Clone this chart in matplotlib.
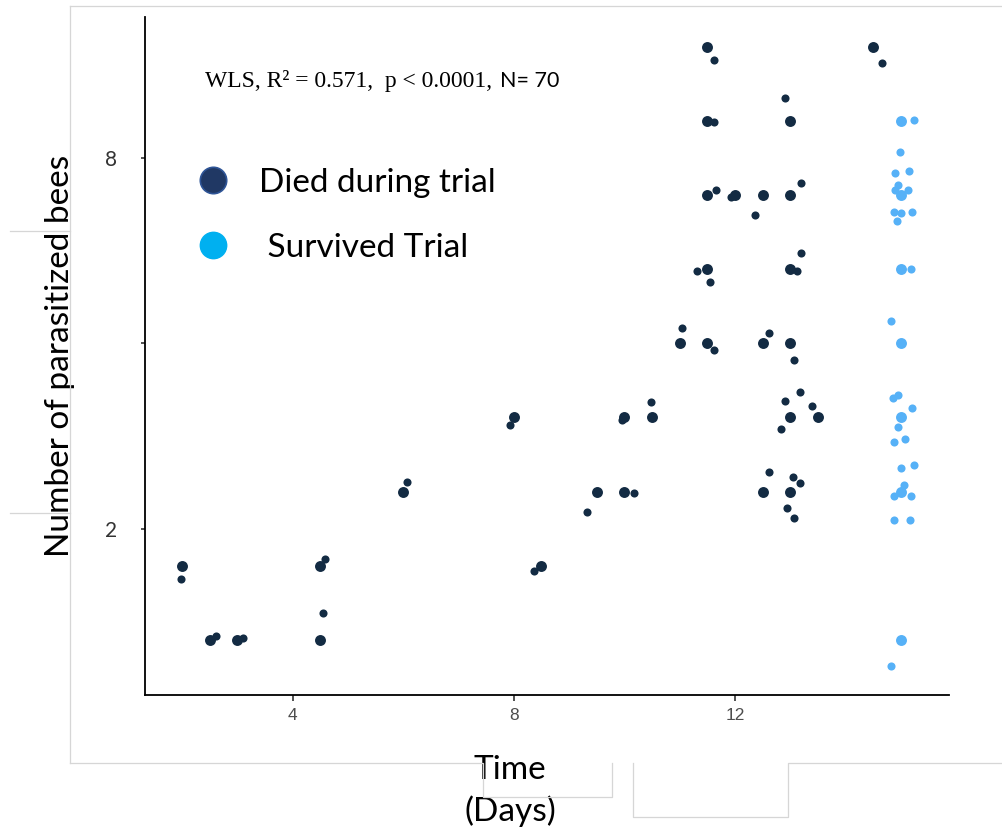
import matplotlib
matplotlib.use('Agg')
import matplotlib.pyplot as plt
from matplotlib.lines import Line2D

# colours
DIED = '#132B43'
SURV = '#56B1F7'

# died during trial: points on the exact day / count
died_x = [2, 2.5, 3, 4.5, 4.5, 6, 8, 8.5, 9.5, 10, 10, 10.5, 11, 11.5, 12.5, 13, 13, 13.5,
          12.5, 13, 11.5, 13, 11.5, 11.5, 12, 12.5, 13, 11.5, 13, 14.5]
died_y = [1.74, 1.32, 1.32, 1.32, 1.74, 2.30, 3.04, 1.74, 2.30, 2.30, 3.04, 3.04, 4.0, 4.0, 4.0, 4.0, 3.04, 3.04,
          2.30, 2.30, 12.1, 9.19, 9.19, 6.96, 6.96, 6.96, 6.96, 5.28, 5.28, 12.1]

# died during trial: jittered copies
died_jx = [1.99, 2.62, 3.11, 4.55, 4.58, 6.06, 7.93, 8.37, 9.33, 10.18, 9.96, 10.48, 11.05, 11.62,
           12.61, 13.07, 12.91, 13.18, 13.40, 12.83, 12.61, 13.05, 13.18, 12.94, 13.07, 11.62,
           12.90, 11.62, 11.65, 11.92, 12.36, 13.20, 11.32, 11.54, 13.13, 13.20, 14.65]
died_jy = [1.66, 1.34, 1.33, 1.46, 1.79, 2.38, 2.95, 1.71, 2.13, 2.29, 3.00, 3.21, 4.23, 3.90,
           4.16, 3.76, 3.23, 3.34, 3.17, 2.90, 2.47, 2.43, 2.37, 2.16, 2.08, 11.55,
           10.02, 9.16, 7.11, 6.92, 6.47, 7.28, 5.25, 5.04, 5.25, 5.61, 11.43]

# survived trial
surv_x = [15, 15, 15, 15, 15, 15, 15]
surv_y = [9.19, 6.96, 5.28, 4.0, 3.04, 2.30, 1.32]

surv_jx = [15.23, 14.98, 14.89, 15.14, 14.95, 14.89, 15.12, 14.87, 15.01, 15.20, 14.93, 15.18,
           14.82, 14.86, 14.95, 15.20, 14.94, 14.87, 15.07, 15.01, 15.23, 15.06, 14.87, 15.18,
           14.87, 15.17, 14.83]
surv_jy = [9.22, 8.18, 7.56, 7.61, 7.23, 7.11, 7.10, 6.54, 6.51, 6.54, 6.31, 5.28,
           4.35, 3.26, 3.30, 3.14, 2.93, 2.77, 2.80, 2.51, 2.54, 2.36, 2.26, 2.26,
           2.07, 2.07, 1.20]

W, H = 1002, 831
fig = plt.figure(figsize=(W / 100, H / 100), dpi=100)
ax = fig.add_axes([145 / W, 1 - 695 / H, (949 - 145) / W, (695 - 17) / H])

ax.scatter(died_x, died_y, s=62, color=DIED, linewidths=0, zorder=3)
ax.scatter(died_jx, died_jy, s=34, color=DIED, linewidths=0, zorder=3)
ax.scatter(surv_x, surv_y, s=62, color=SURV, linewidths=0, zorder=3)
ax.scatter(surv_jx, surv_jy, s=34, color=SURV, linewidths=0, zorder=3)

ax.set_yscale('log', base=2)
ax.set_xlim(1.33, 15.87)
ax.set_ylim(1.075, 13.55)
ax.set_xticks([4, 8, 12])
ax.set_xticklabels(['4', '8', '12'], fontfamily='Liberation Sans', fontsize=12.5, color='#4D4D4D')
ax.set_yticks([2, 4, 8])
ax.set_yticklabels(['2', '', '8'], fontfamily='Lato', fontsize=15, color='#333333')
ax.yaxis.set_minor_locator(matplotlib.ticker.NullLocator())
ax.tick_params(axis='x', length=4, width=1.2, color='#333333', pad=5)
ax.tick_params(axis='y', length=3, width=1.2, color='#333333', pad=17)

for side in ['top', 'right']:
    ax.spines[side].set_visible(False)
for side in ['left', 'bottom']:
    ax.spines[side].set_linewidth(1.3)
    ax.spines[side].set_color('black')

ax.set_ylabel('Number of parasitized bees', fontfamily='Lato', fontsize=24, color='black')
ax.yaxis.set_label_coords(-0.087, 0.5)
ax.set_xlabel('Time\n(Days)', fontfamily='Lato', fontsize=24, color='black', linespacing=1.42)
ax.xaxis.set_label_coords(0.454, -0.088)

# statistics
ax.text(0.0746, 0.8968, 'WLS, R\u00b2 = 0.571,  p < 0.0001,', transform=ax.transAxes,
        fontfamily='Liberation Serif', fontsize=17, va='baseline', ha='left')
ax.text(0.4415, 0.8968, 'N= 70', transform=ax.transAxes,
        fontfamily='Lato', fontsize=15.5, va='baseline', ha='left')

# legend
handles = [
    Line2D([], [], linestyle='none', marker='o', markersize=19, markerfacecolor='#203864',
           markeredgecolor='#2F5597', markeredgewidth=1.2),
    Line2D([], [], linestyle='none', marker='o', markersize=19, markerfacecolor='#00B0F0',
           markeredgecolor='#00B0F0'),
]
leg = fig.legend(handles, ['Died during trial', ' Survived Trial'], loc='upper left',
                 bbox_to_anchor=(196 / W, 1 - 168 / H), bbox_transform=fig.transFigure,
                 frameon=False, borderpad=0, borderaxespad=0, handlelength=1.0,
                 handletextpad=0.89, labelspacing=1.05,
                 prop={'family': 'Lato', 'size': 24})

# outline of the surrounding slide boxes
def seg(points):
    xs = [p[0] / W for p in points]
    ys = [1 - p[1] / H for p in points]
    fig.add_artist(Line2D(xs, ys, transform=fig.transFigure, color='#D6D6D6', linewidth=0.9))

seg([(70, 6), (1002, 6)])
seg([(70, 6), (70, 763)])
seg([(70, 763), (482.7, 763), (482.7, 797), (612.3, 797), (612.3, 763)])
seg([(632.7, 763), (632.7, 817), (788.3, 817), (788.3, 763), (1002, 763)])
seg([(10, 231), (70, 231)])
seg([(10, 513), (70, 513)])

fig.savefig('out.png', dpi=100)
